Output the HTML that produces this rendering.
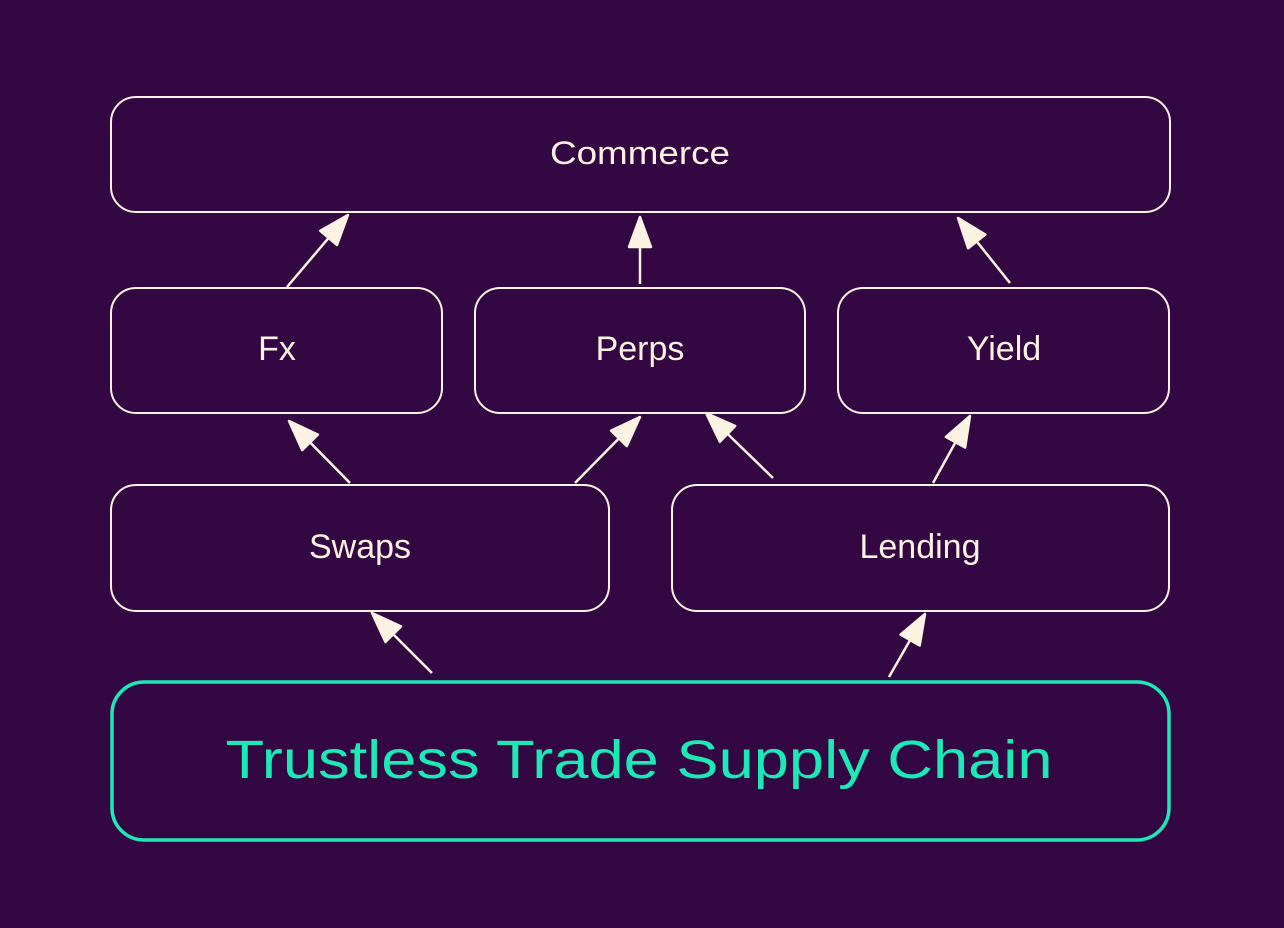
<!DOCTYPE html>
<html><head><meta charset="utf-8"><style>
html,body{margin:0;padding:0;background:#330742;}
svg{display:block}
text{font-family:"Liberation Sans",sans-serif;fill:#fdf3e2;text-anchor:middle;dominant-baseline:central}
</style></head><body>
<svg width="1284" height="928" viewBox="0 0 1284 928">
<defs>
<marker id="a" markerWidth="10" markerHeight="10" refX="8" refY="5" orient="auto" markerUnits="userSpaceOnUse" viewBox="0 0 10 10">
</marker>
</defs>
<g fill="none" stroke="#fdf3e2" stroke-width="2">
<rect x="111" y="97" width="1059" height="115" rx="25"/>
<rect x="111" y="288" width="331" height="125" rx="25"/>
<rect x="475" y="288" width="330" height="125" rx="25"/>
<rect x="838" y="288" width="331" height="125" rx="25"/>
<rect x="111" y="485" width="498" height="126" rx="25"/>
<rect x="672" y="485" width="497" height="126" rx="25"/>
</g>
<rect x="112" y="682" width="1057" height="158" rx="32" fill="none" stroke="#1de9b6" stroke-width="3.5"/>
<g stroke="#fdf3e2" stroke-width="2.5" fill="#fdf3e2" id="arrows"></g>
<text x="640" y="153" font-size="32" textLength="180" lengthAdjust="spacingAndGlyphs">Commerce</text>
<text x="277" y="349" font-size="34">Fx</text>
<text x="640" y="349" font-size="34">Perps</text>
<text x="1004" y="349" font-size="34">Yield</text>
<text x="360" y="547" font-size="34">Swaps</text>
<text x="920" y="547" font-size="34">Lending</text>
<text x="639" y="760" font-size="54" style="fill:#1de9b6" textLength="827" lengthAdjust="spacingAndGlyphs">Trustless Trade Supply Chain</text>
<script>
var A=[[287,287,348,215],[640,284,640,217],[1010,283,958,218],[350,483,289,421],[575,483,640,417],[773,478,706,413],[933,483,970,416],[432,673,372,613],[889,677,925,614]];
var g=document.getElementById('arrows'),ns='http://www.w3.org/2000/svg';
A.forEach(function(p){var dx=p[2]-p[0],dy=p[3]-p[1],L=Math.hypot(dx,dy),ux=dx/L,uy=dy/L,h=30,w=11;
var bx=p[2]-ux*h,by=p[3]-uy*h;
var l=document.createElementNS(ns,'line');l.setAttribute('x1',p[0]);l.setAttribute('y1',p[1]);l.setAttribute('x2',bx);l.setAttribute('y2',by);g.appendChild(l);
var t=document.createElementNS(ns,'polygon');t.setAttribute('points',p[2]+','+p[3]+' '+(bx-uy*w)+','+(by+ux*w)+' '+(bx+uy*w)+','+(by-ux*w));t.setAttribute('stroke-linejoin','round');g.appendChild(t);});
</script>
</svg>
</body></html>
